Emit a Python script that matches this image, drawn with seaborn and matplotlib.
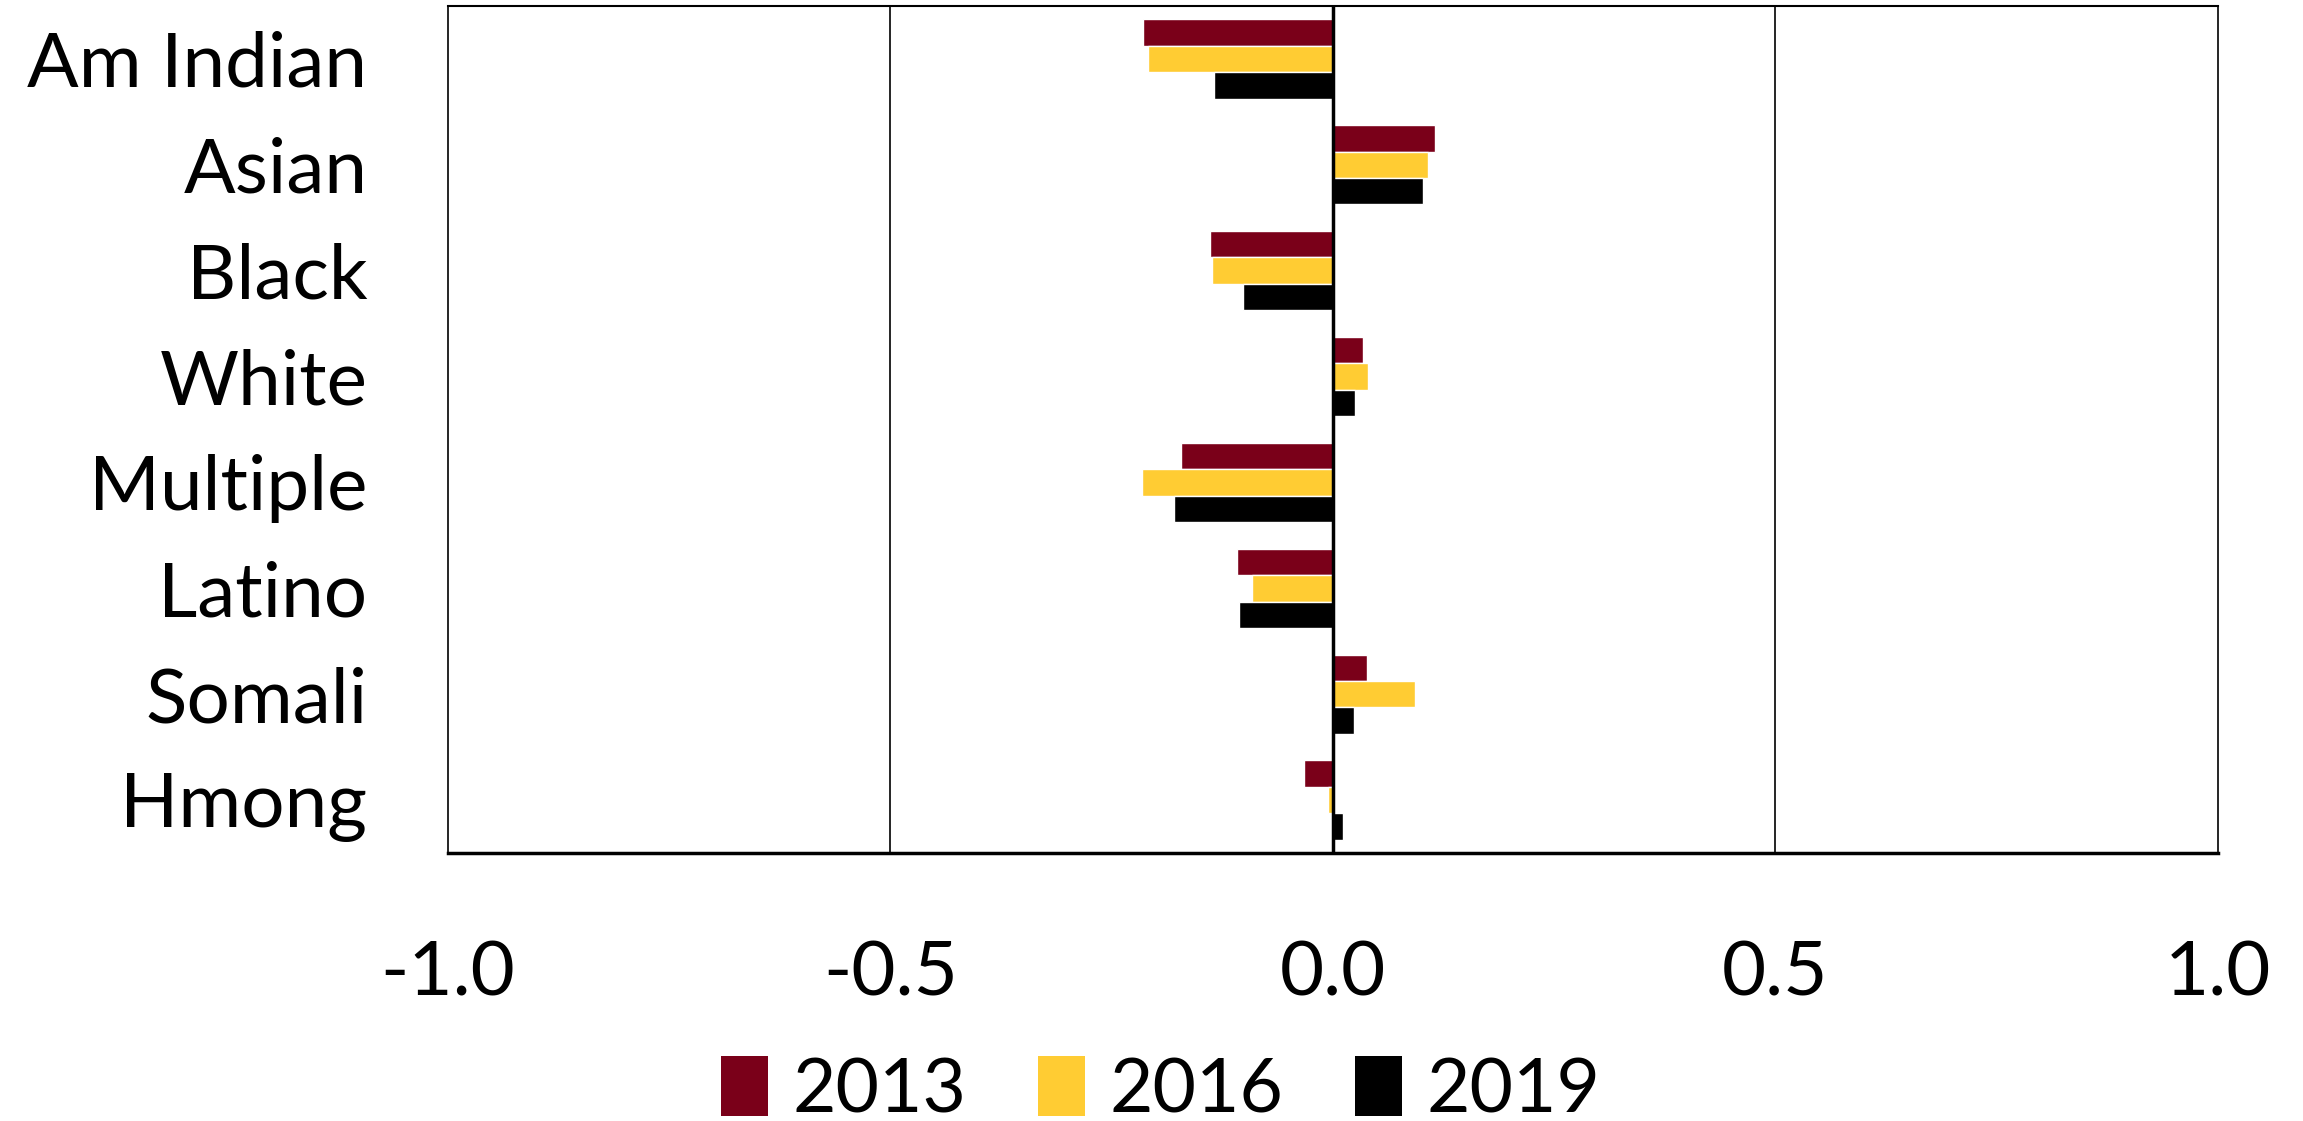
import matplotlib
matplotlib.use("Agg")
import matplotlib.pyplot as plt
import seaborn as sns
import pandas as pd
from matplotlib.patches import Patch

categories = ["Am Indian", "Asian", "Black", "White", "Multiple", "Latino", "Somali", "Hmong"]
years = ["2013", "2016", "2019"]
vals_2013 = [-0.215, 0.115, -0.139, 0.034, -0.172, -0.108, 0.039, -0.033]
vals_2016 = [-0.209, 0.108, -0.137, 0.040, -0.216, -0.091, 0.093, -0.006]
vals_2019 = [-0.134, 0.102, -0.101, 0.025, -0.179, -0.106, 0.024, 0.011]
x_ticks = [-1.0, -0.5, 0.0, 0.5, 1.0]
colors = ["#7A0019", "#FFCC33", "#000000"]

rows = []
for yr, vals in zip(years, [vals_2013, vals_2016, vals_2019]):
    for c, v in zip(categories, vals):
        rows.append({"category": c, "year": yr, "value": v})
df = pd.DataFrame(rows)

sns.set_style("white")
plt.rcParams['font.family'] = ['Lato', 'DejaVu Sans']
plt.rcParams['text.color'] = 'black'
plt.rcParams['xtick.color'] = 'black'
plt.rcParams['ytick.color'] = 'black'

fig = plt.figure(figsize=(23.03, 11.21), dpi=100)
ax = fig.add_axes([0.1945, 0.239, 0.7685, 0.7557])

sns.barplot(data=df, y="category", x="value", hue="year", order=categories,
            hue_order=years, palette=colors, orient="h", width=0.75,
            ax=ax, legend=False, saturation=1)

ax.set_xlim(-1, 1)
ax.set_ylim(len(categories) - 0.5, -0.5)
ax.set_xticks(x_ticks)
ax.set_xticklabels([f"{t:.1f}" for t in x_ticks])
for t in [-0.5, 0.5]:
    ax.axvline(t, color="black", lw=1.2, zorder=0)
ax.axvline(0, color="black", lw=2.5, zorder=3)
ax.set_xlabel("")
ax.set_ylabel("")
for s in ax.spines.values():
    s.set_visible(True)
    s.set_color("black")
    s.set_linewidth(1.2)
ax.spines["bottom"].set_linewidth(2.5)
ax.spines["top"].set_linewidth(1.5)
ax.tick_params(axis="y", length=0, pad=58, labelsize=55, labelcolor="black")
ax.tick_params(axis="x", length=0, pad=62, labelsize=55, labelcolor="black")

handles = [Patch(facecolor=c, edgecolor="none", label=y) for c, y in zip(colors, years)]
fig.legend(handles=handles, loc="center", bbox_to_anchor=(0.504, 0.027), ncol=3,
           frameon=False, fontsize=54, handlelength=0.63, handleheight=0.85,
           handletextpad=0.33, columnspacing=0.95, labelcolor="black")

fig.savefig("out.png", dpi=100)
